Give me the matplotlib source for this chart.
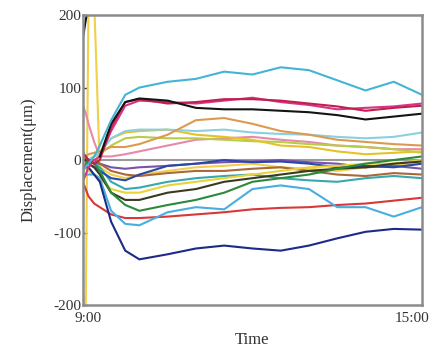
import matplotlib
matplotlib.use("Agg")
import matplotlib.pyplot as plt
import matplotlib.transforms as mtransforms

nan = float("nan")

# time in hours
T = [9.0, 9.05, 9.1, 9.2, 9.3, 9.5, 9.75, 10.0, 10.5, 11.0, 11.5, 12.0, 12.5, 13.0, 13.5, 14.0, 14.5, 15.0]

cyan = [-15, -10, -5, 5, 20, 55, 90, 100, 108, 112, 122, 118, 128, 124, 110, 96, 108, 90]
black = [168, 192, 215, nan, 5, 50, 80, 85, 82, 72, 70, 70, 68, 66, 62, 56, 60, 64]
crimson = [10, 5, 0, -5, 0, 45, 80, 84, 78, 80, 84, 84, 82, 78, 74, 68, 72, 75]
magenta = [-30, -20, -10, 0, 5, 40, 75, 82, 80, 78, 82, 86, 80, 76, 70, 72, 74, 78]
pink = [75, 65, 50, 25, 5, 5, 8, 12, 20, 28, 30, 32, 28, 25, 20, 18, 15, 15]
orange = [0, 5, 8, 10, 12, 18, 18, 22, 35, 55, 58, 50, 40, 35, 28, 25, 22, 20]
lightblue = [0, 0, 0, 5, 10, 30, 40, 42, 42, 40, 42, 38, 36, 35, 32, 30, 32, 38]
yellow_up = [0, 0, 0, 5, 10, 30, 38, 40, 42, 35, 32, 28, 20, 18, 12, 8, 10, 12]
lime = [0, 0, 0, 5, 8, 20, 30, 32, 30, 30, 28, 26, 25, 22, 20, 18, 15, 10]
green = [-10, -5, 0, -5, -15, -45, -62, -70, -62, -55, -45, -30, -25, -20, -12, -5, 0, 5]
navy = [-10, -10, -10, -20, -30, -85, -125, -137, -130, -122, -118, -122, -125, -118, -108, -99, -95, -96]
sky = [-20, -20, -20, -20, -25, -70, -88, -90, -72, -65, -68, -40, -35, -40, -65, -65, -78, -65]
red = [-30, -40, -50, -60, -65, -75, -80, -80, -78, -75, -72, -68, -66, -65, -62, -60, -56, -52]
yellow_low = [-5, -10, -15, -20, -25, -40, -45, -45, -35, -30, -25, -20, -15, -10, -8, -5, -5, 0]
olive = [0, 0, -5, -10, -20, -45, -55, -55, -45, -40, -30, -25, -20, -15, -12, -10, -5, -2]
navy2 = [0, 0, -5, -10, -15, -25, -28, -20, -8, -5, 0, -3, -2, -5, -10, -8, -10, -5]
purple = [10, 5, 0, -5, -5, -10, -12, -10, -8, -5, -3, -2, 0, -3, -5, -10, -8, -12]
brown = [5, 3, 0, 0, -5, -15, -20, -22, -18, -15, -15, -12, -10, -15, -20, -22, -18, -20]
teal = [0, 0, 0, -5, -10, -30, -40, -38, -30, -25, -22, -20, -25, -28, -30, -25, -22, -25]
yellow_spike = [-180, -220, 220, 220, -10, -20, -25, -20, -15, -10, -8, -5, -10, -12, -15, -10, -8, -5]

xtick_vals = [9.0, 15.0]
xtick_labels = ["9:00", "15:00"]
ytick_vals = [-200, -100, 0, 100, 200]
ytick_labels = ["-200", "-100", "0", "100", "200"]

series = [
    (yellow_spike, "#f0d048"),
    (pink, "#e58aa8"),
    (lime, "#b8cc48"),
    (yellow_up, "#e6c22a"),
    (lightblue, "#8ccfe0"),
    (orange, "#dc9a50"),
    (purple, "#7a52a8"),
    (brown, "#a8683a"),
    (teal, "#38a8b0"),
    (navy2, "#2a48a8"),
    (yellow_low, "#e8d438"),
    (olive, "#3a3a20"),
    (green, "#2a8a3a"),
    (red, "#d83838"),
    (sky, "#48aee0"),
    (navy, "#1c2a88"),
    (magenta, "#d8338c"),
    (crimson, "#c0204a"),
    (black, "#141414"),
    (cyan, "#44b4d4"),
]

plt.rcParams['font.family'] = ['Liberation Serif', 'DejaVu Serif']
fig = plt.figure(figsize=(4.36, 3.51), dpi=100)
ax = fig.add_axes([0.19, 0.131, 0.778, 0.826])

ax.axhline(0, color="#9a9a9a", lw=1.5, zorder=1)
for vals, col in series:
    ax.plot(T, vals, color=col, lw=1.5, zorder=2)

ax.set_xlim(9.0, 15.0)
ax.set_ylim(-200, 200)
ax.set_xticks(xtick_vals)
ax.set_xticklabels(xtick_labels)
ax.set_yticks(ytick_vals)
ax.set_yticklabels(ytick_labels)
ax.tick_params(axis="both", labelsize=11, colors="#333333", length=3, width=1,
               direction="in", pad=1)
ax.tick_params(axis="x", length=0, pad=5)
for s in ax.spines.values():
    s.set_color("#8c8c8c")
    s.set_linewidth(1.8)

# shift x tick labels as in the reference
offsets = [5, -10]
for lab, dx in zip(ax.get_xticklabels(), offsets):
    lab.set_transform(lab.get_transform() +
                      mtransforms.ScaledTranslation(dx / 100, 0, fig.dpi_scale_trans))

ax.set_xlabel("Time", fontsize=12, color="#333333", labelpad=5)
ax.set_ylabel("Displacement(μm)", fontsize=12, color="#333333", labelpad=12)

fig.savefig("out.png", dpi=100)
